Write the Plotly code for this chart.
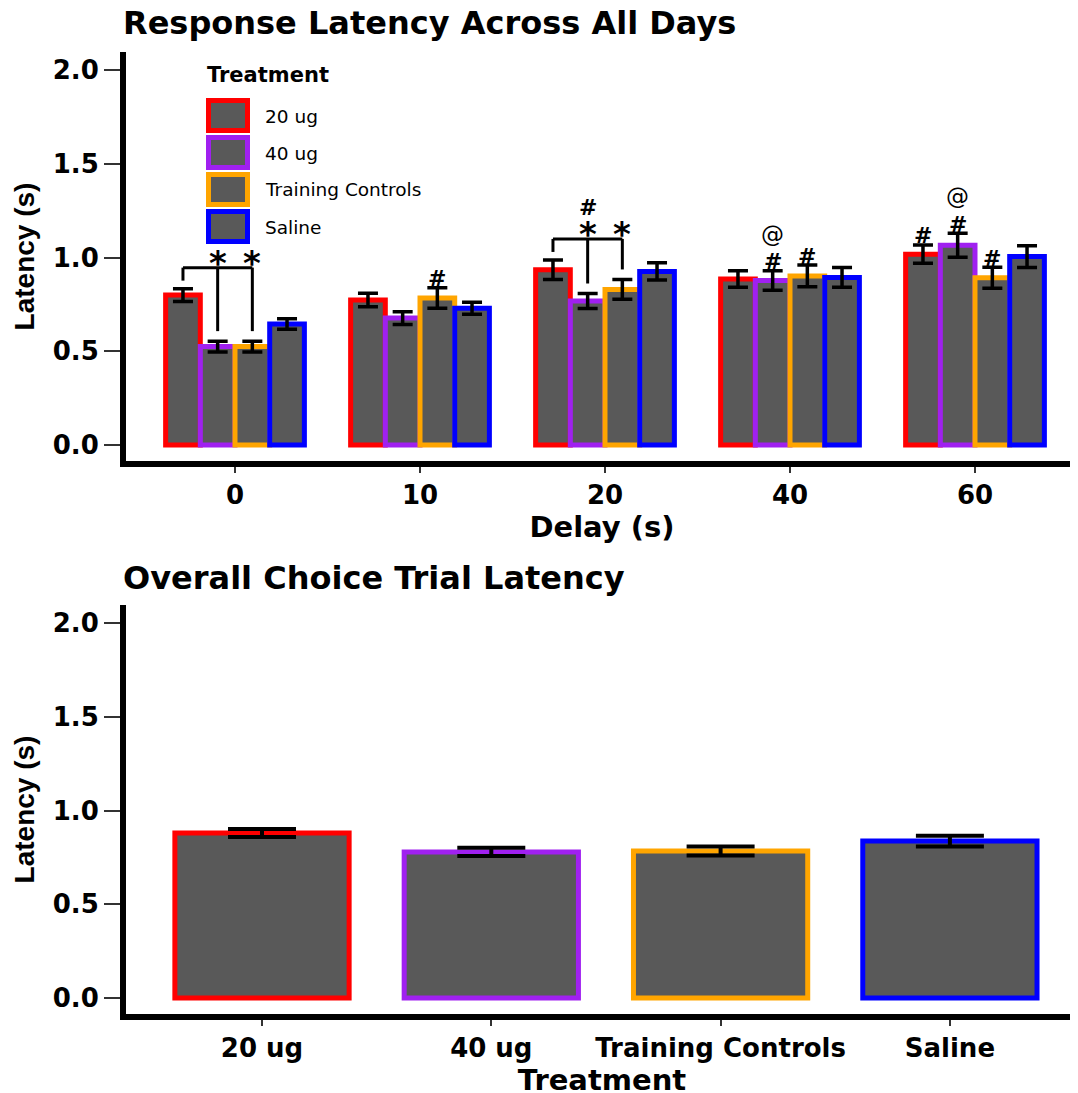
import plotly.graph_objects as go

# ---------------- data ----------------
delays = ["0", "10", "20", "40", "60"]
treatments = ["20 ug", "40 ug", "Training Controls", "Saline"]

lat_20ug = [0.800, 0.773, 0.935, 0.885, 1.018]
se_20ug = [0.034, 0.036, 0.052, 0.044, 0.049]
lat_40ug = [0.525, 0.677, 0.768, 0.878, 1.065]
se_40ug = [0.029, 0.034, 0.040, 0.052, 0.064]
lat_train = [0.525, 0.784, 0.830, 0.902, 0.892]
se_train = [0.029, 0.055, 0.053, 0.058, 0.056]
lat_saline = [0.645, 0.730, 0.926, 0.894, 1.005]
se_saline = [0.028, 0.032, 0.046, 0.053, 0.058]

overall_mean = [0.880, 0.779, 0.784, 0.837]
overall_se = [0.021, 0.022, 0.024, 0.029]

# significance marks: (delay, treatment)
hash_marks = [("10", "Training Controls"), ("20", "40 ug"), ("40", "40 ug"),
              ("40", "Training Controls"), ("60", "20 ug"), ("60", "40 ug"),
              ("60", "Training Controls")]
at_marks = [("40", "40 ug"), ("60", "40 ug")]
# brackets: (delay, reference treatment, targets marked with *)
brackets = [("0", "20 ug", ["40 ug", "Training Controls"]),
            ("20", "20 ug", ["40 ug", "Training Controls"])]

y_ticks = [0.0, 0.5, 1.0, 1.5, 2.0]

# ---------------- styling ----------------
colors = ["#FF0000", "#A020F0", "#FFA500", "#0000FF"]
FILL = "#595959"
FONT = "DejaVu Sans"
FONT_NARROW = "Liberation Sans"
W, H = 1078, 1093
OFF = 8  # page body margin
PX = 1 / 187.5  # data units per pixel


def fy(p):
    """page-y target -> figure-y"""
    return p - OFF


L, R = 126 - OFF, OFF
T = fy(52)
B = H - fy(1014)
BARGAP_TOP = 0.25
BARGAP_BOT = 0.24


def paper_x(p):
    return (p - OFF - L) / (W - L - R)


def paper_y(p):
    return (H - B - fy(p)) / (H - T - B)


means = [lat_20ug, lat_40ug, lat_train, lat_saline]
ses = [se_20ug, se_40ug, se_train, se_saline]
xidx = list(range(len(delays)))

fig = go.Figure()
for j, name in enumerate(treatments):
    fig.add_trace(go.Bar(
        x=xidx, y=means[j], name=name,
        marker=dict(color=FILL, line=dict(color=colors[j], width=5)),
        error_y=dict(type="data", array=ses[j], color="black", thickness=3.5, width=10),
        xaxis="x", yaxis="y", showlegend=False, offsetgroup=str(j),
    ))

fig.add_trace(go.Bar(
    x=list(range(len(treatments))), y=overall_mean,
    marker=dict(color=FILL, line=dict(color=colors, width=5)),
    error_y=dict(type="data", array=overall_se, color="black", thickness=4, width=34),
    xaxis="x2", yaxis="y2", showlegend=False, width=1 - BARGAP_BOT,
))

bw = (1 - BARGAP_TOP) / len(treatments)


def bar_x(d, t):
    i = delays.index(d)
    j = treatments.index(t)
    return i + (j - (len(treatments) - 1) / 2) * bw


def cap_top(d, t):
    i = delays.index(d)
    j = treatments.index(t)
    return means[j][i] + ses[j][i]


shapes = []
annotations = []
level = {}  # next mark position per bar (data units)

for d, ref, targets in brackets:
    yb = cap_top(d, ref) + 21 * PX
    xr = bar_x(d, ref)
    xs = [bar_x(d, t) for t in targets]
    line = dict(color="black", width=3)
    shapes.append(dict(type="line", xref="x", yref="y", x0=xr, x1=max(xs), y0=yb, y1=yb, line=line))
    shapes.append(dict(type="line", xref="x", yref="y", x0=xr, x1=xr, y0=yb, y1=cap_top(d, ref) + 8 * PX, line=line))
    for t, xt in zip(targets, xs):
        shapes.append(dict(type="line", xref="x", yref="y", x0=xt, x1=xt, y0=yb,
                           y1=cap_top(d, t) + 10 * PX, line=line))
        ys = yb + 8 * PX
        annotations.append(dict(x=xt, y=ys, xref="x", yref="y", text="*", showarrow=False,
                                font=dict(family=FONT, size=34, color="black", weight="bold"),
                                yanchor="middle", yshift=-3))
        level[(d, t)] = ys + 24 * PX

for d, t in hash_marks:
    y = level.get((d, t), cap_top(d, t) + 10 * PX)
    annotations.append(dict(x=bar_x(d, t), y=y, xref="x", yref="y", text="#", showarrow=False,
                            font=dict(family=FONT, size=22, color="black", weight="bold"),
                            yanchor="middle", yshift=-1))
    level[(d, t)] = y + 27 * PX

for d, t in at_marks:
    y = level.get((d, t), cap_top(d, t) + 10 * PX)
    annotations.append(dict(x=bar_x(d, t), y=y, xref="x", yref="y", text="@", showarrow=False,
                            font=dict(family=FONT, size=23, color="black"),
                            yanchor="middle"))
    level[(d, t)] = y + 27 * PX

# panel titles
annotations.append(dict(x=paper_x(121), y=paper_y(23), xref="paper", yref="paper",
                        text="Response Latency Across All Days", showarrow=False,
                        xanchor="left", yanchor="middle",
                        font=dict(family=FONT, size=32, color="black", weight="bold")))
annotations.append(dict(x=paper_x(121), y=paper_y(578), xref="paper", yref="paper",
                        text="Overall Choice Trial Latency", showarrow=False,
                        xanchor="left", yanchor="middle",
                        font=dict(family=FONT, size=32, color="black", weight="bold")))

# custom legend
annotations.append(dict(x=paper_x(205), y=paper_y(75), xref="paper", yref="paper",
                        text="Treatment", showarrow=False, xanchor="left", yanchor="middle",
                        font=dict(family=FONT, size=21, color="black", weight="bold")))
row_tops = [98, 135, 172, 209]
for j, name in enumerate(treatments):
    top = row_tops[j]
    shapes.append(dict(type="rect", xref="paper", yref="paper",
                       x0=paper_x(208.5), x1=paper_x(247.5),
                       y0=paper_y(top + 2.5), y1=paper_y(top + 32.5),
                       fillcolor=FILL, line=dict(color=colors[j], width=5)))
    annotations.append(dict(x=paper_x(263), y=paper_y(top + 18), xref="paper", yref="paper",
                            text=name, showarrow=False, xanchor="left", yanchor="middle",
                            font=dict(family=FONT, size=18.5, color="black")))

tickfont = dict(family=FONT, size=26, color="black", weight="bold")
titlefont = dict(family=FONT, size=29, color="black", weight="bold")
ytitlefont = dict(family=FONT_NARROW, size=28, color="black", weight="bold")

axis_common = dict(showline=True, linewidth=6, linecolor="black", ticks="outside",
                   tickwidth=2, tickcolor="#333333", showgrid=False,
                   zeroline=False, fixedrange=True, automargin=False)

dom_top = [paper_y(461), 1]
dom_bot = [0, paper_y(605)]

fig.update_layout(
    width=W, height=H,
    margin=dict(l=L, r=R, t=T, b=B),
    plot_bgcolor="white", paper_bgcolor="white",
    barmode="group", bargap=BARGAP_TOP, bargroupgap=0,
    shapes=shapes, annotations=annotations,
    xaxis=dict(domain=[0, 1], anchor="y", range=[(126 - 235) / 185, (1078 - 235) / 185],
               tickvals=xidx, ticktext=delays, tickfont=tickfont, ticklen=6,
               title=dict(text="Delay (s)", font=titlefont, standoff=0), **axis_common),
    yaxis=dict(domain=dom_top, anchor="x", range=[(445 - 461) / 187.5, (445 - 52) / 187.5],
               tickvals=y_ticks, tickformat=".1f", tickfont=tickfont, ticklen=16,
               title=dict(text="Latency (s)", font=ytitlefont, standoff=12), **axis_common),
    xaxis2=dict(domain=[0, 1], anchor="y2",
                range=[(126 - 262) / 229.3, (1078 - 262) / 229.3],
                tickvals=list(range(len(treatments))), ticktext=treatments, tickfont=tickfont,
                ticklen=6,
                title=dict(text="Treatment", font=titlefont, standoff=0), **axis_common),
    yaxis2=dict(domain=dom_bot, anchor="x2", range=[(998 - 1014) / 187.5, (998 - 605) / 187.5],
                tickvals=y_ticks, tickformat=".1f", tickfont=tickfont, ticklen=16,
                title=dict(text="Latency (s)", font=ytitlefont, standoff=12), **axis_common),
)

fig.write_html("out.html")
